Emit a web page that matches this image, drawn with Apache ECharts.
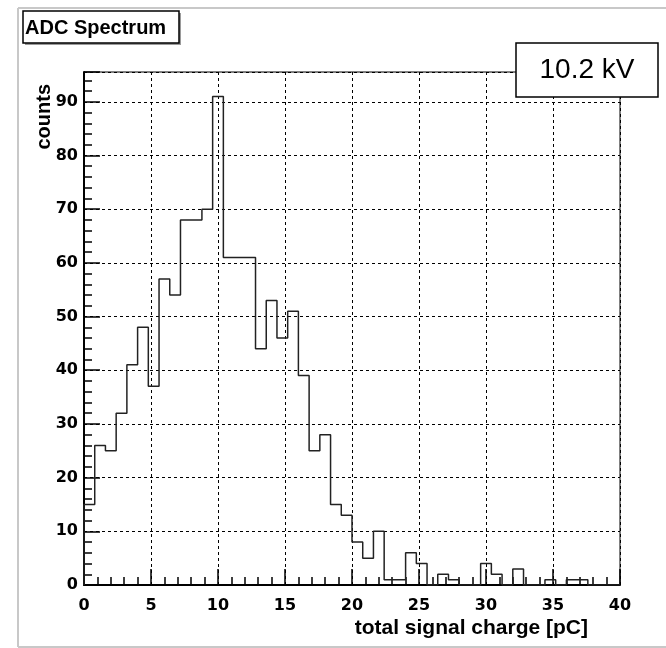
<!DOCTYPE html>
<html><head><meta charset="utf-8">
<script src="https://cdn.jsdelivr.net/npm/echarts@6/dist/echarts.min.js"></script>
<style>html,body{margin:0;padding:0;background:#fff}#c{width:666px;height:648px}</style>
</head><body><div id="c"></div>
<script>
// ---- data ----
const binWidth = 0.8;           // pC per bin, 50 bins over 0..40
const counts = [15, 26, 25, 32, 41, 48, 37, 57, 54, 68,
                68, 70, 91, 61, 61, 61, 44, 53, 46, 51,
                39, 25, 28, 15, 13, 8, 5, 10, 1, 1,
                6, 4, 0, 2, 1, 0, 0, 4, 2, 0,
                3, 0, 0, 1, 0, 1, 1, 0, 0, 0];
const xRange = [0, 40];
const xMajorStep = 5;
const yMajorStep = 10;
const yMinorStep = 2;
const titleText = 'ADC Spectrum';
const voltageText = '10.2 kV';
const xAxisTitle = 'total signal charge [pC]';
const yAxisTitle = 'counts';

// ---- build ----
const yMax = 1.05 * Math.max(...counts);
const pts = [[0, 0]];
counts.forEach((c, i) => pts.push([i * binWidth, c]));
pts.push([counts.length * binWidth, counts[counts.length - 1]]);

const tickFont = {fontFamily: 'DejaVu Sans', fontWeight: 'bold', fontSize: 16, color: '#000'};
const chart = echarts.init(document.getElementById('c'), null, {renderer: 'canvas'});
chart.setOption({
  animation: false,
  backgroundColor: '#fff',
  grid: {left: 84, right: 46, top: 72, bottom: 63, show: true, borderColor: '#000', borderWidth: 1, backgroundColor: 'transparent'},
  xAxis: {
    type: 'value', min: xRange[0], max: xRange[1], interval: xMajorStep,
    axisLine: {show: true, onZero: false, lineStyle: {color: '#000', width: 2}},
    axisTick: {show: true, inside: true, length: 16, lineStyle: {color: '#000', width: 1.5}},
    minorTick: {show: true, splitNumber: 5, length: 8, lineStyle: {color: '#000', width: 1.5}},
    axisLabel: Object.assign({margin: 13, showMaxLabel: true, showMinLabel: true}, tickFont),
    splitLine: {show: true, lineStyle: {color: '#000', width: 1, type: [3, 3]}}
  },
  yAxis: [{
    type: 'value', min: 0, max: yMax, interval: yMajorStep,
    axisLine: {show: true, onZero: false, lineStyle: {color: '#000', width: 2}},
    axisTick: {show: true, inside: true, length: 16, lineStyle: {color: '#000', width: 1.5}},
    axisLabel: Object.assign({margin: 6, formatter: v => (Math.abs(v % yMajorStep) < 1e-9 ? String(v) : '')}, tickFont),
    splitLine: {show: true, lineStyle: {color: '#000', width: 1, type: [3, 3]}}
  }, {
    type: 'value', min: 0, max: yMax, interval: yMinorStep, position: 'left', offset: 0,
    axisLine: {show: false},
    axisTick: {show: true, inside: true, length: 8, lineStyle: {color: '#000', width: 1.5}},
    axisLabel: {show: false},
    splitLine: {show: false}
  }],
  series: [{
    type: 'line', step: 'end', data: pts, yAxisIndex: 0,
    showSymbol: false, symbol: 'none',
    lineStyle: {color: '#222', width: 1.5},
    z: 5
  }],
  graphic: [
    {type: 'line', shape: {x1: 18, y1: 8, x2: 18, y2: 647}, style: {stroke: '#c8c8c8', lineWidth: 2}, z: 1},
    {type: 'line', shape: {x1: 18, y1: 8, x2: 666, y2: 8}, style: {stroke: '#c8c8c8', lineWidth: 2}, z: 1},
    {type: 'line', shape: {x1: 18, y1: 647, x2: 666, y2: 647}, style: {stroke: '#c8c8c8', lineWidth: 2}, z: 1},
    {type: 'rect', shape: {x: 25, y: 13, width: 156, height: 32}, style: {fill: '#9a9a9a'}, z: 100},
    {type: 'rect', shape: {x: 23, y: 11, width: 156, height: 32}, style: {fill: '#fff', stroke: '#000', lineWidth: 1.5}, z: 101},
    {type: 'text', x: 25, y: 28, style: {text: titleText, fontFamily: 'Liberation Sans', fontWeight: 'bold', fontSize: 20, fill: '#000', textAlign: 'left', textVerticalAlign: 'middle'}, z: 102},
    {type: 'rect', shape: {x: 516, y: 43, width: 142, height: 54}, style: {fill: '#fff', stroke: '#000', lineWidth: 1.5}, z: 101},
    {type: 'text', x: 587, y: 70, style: {text: voltageText, fontFamily: 'Liberation Sans', fontSize: 28, fill: '#000', textAlign: 'center', textVerticalAlign: 'middle'}, z: 102},
    {type: 'text', x: 588, y: 628, style: {text: xAxisTitle, fontFamily: 'Liberation Sans', fontWeight: 'bold', fontSize: 21, fill: '#000', textAlign: 'right', textVerticalAlign: 'middle'}, z: 102},
    {type: 'text', x: 44, y: 84, rotation: Math.PI / 2, style: {text: yAxisTitle, fontFamily: 'Liberation Sans', fontWeight: 'bold', fontSize: 20, fill: '#000', textAlign: 'right', textVerticalAlign: 'middle'}, z: 102}
  ]
});
</script>
</body></html>
